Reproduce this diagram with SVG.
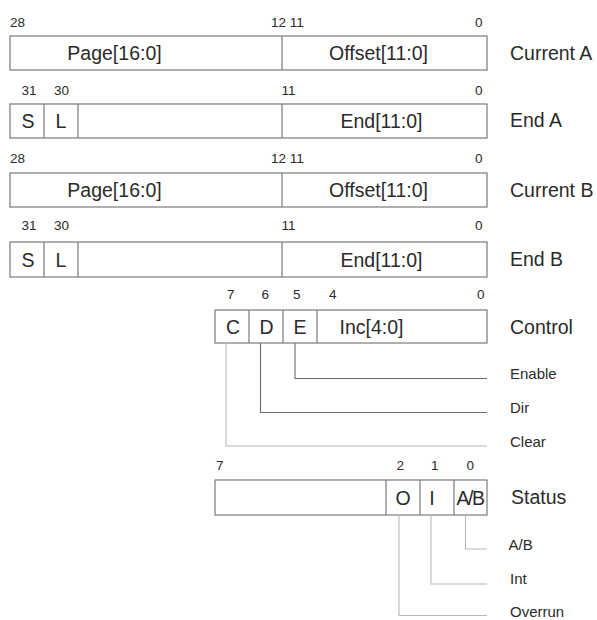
<svg xmlns="http://www.w3.org/2000/svg" width="597" height="620" viewBox="0 0 597 620">
  <style>
    text { font-family: "Liberation Sans", Arial, sans-serif; fill: #2b2b2b; }
    .bit { font-size: 13.5px; }
    .fld { font-size: 19.5px; text-anchor: middle; }
    .reg { font-size: 19.5px; }
    .sig { font-size: 15px; }
    .box { fill: #ffffff; stroke: #7a7a7a; stroke-width: 1.2; }
    .div { stroke: #7a7a7a; stroke-width: 1.2; }
    .wire { fill: none; stroke: #6a6a6a; stroke-width: 1.1; }
    .wire.faint { stroke: #b8b8b8; }
  </style>
  <rect width="597" height="620" fill="#ffffff"/>

  <!-- Current A register -->
  <g id="current-a">
    <text class="bit" x="10" y="27">28</text>
    <text class="bit" x="271" y="27">12 11</text>
    <text class="bit" x="475" y="27">0</text>
    <rect class="box" x="10" y="36" width="477" height="34"/>
    <line class="div" x1="282" y1="36" x2="282" y2="70"/>
    <text class="fld" x="114.5" y="60">Page[16:0]</text>
    <text class="fld" x="378.5" y="60">Offset[11:0]</text>
    <text class="reg" x="510" y="60">Current A</text>
  </g>

  <!-- End A register -->
  <g id="end-a">
    <text class="bit" x="21.5" y="95">31</text>
    <text class="bit" x="54" y="95">30</text>
    <text class="bit" x="281.5" y="95">11</text>
    <text class="bit" x="475" y="95">0</text>
    <rect class="box" x="10" y="104" width="477" height="34"/>
    <line class="div" x1="44" y1="104" x2="44" y2="138"/>
    <line class="div" x1="78" y1="104" x2="78" y2="138"/>
    <line class="div" x1="282" y1="104" x2="282" y2="138"/>
    <text class="fld" x="28" y="128">S</text>
    <text class="fld" x="61" y="128">L</text>
    <text class="fld" x="381.5" y="128">End[11:0]</text>
    <text class="reg" x="510" y="127">End A</text>
  </g>

  <!-- Current B register -->
  <g id="current-b">
    <text class="bit" x="10" y="162.5">28</text>
    <text class="bit" x="271" y="162.5">12 11</text>
    <text class="bit" x="475" y="162.5">0</text>
    <rect class="box" x="10" y="173" width="477" height="34"/>
    <line class="div" x1="282" y1="173" x2="282" y2="207"/>
    <text class="fld" x="114.5" y="197">Page[16:0]</text>
    <text class="fld" x="378.5" y="197">Offset[11:0]</text>
    <text class="reg" x="510" y="196.5">Current B</text>
  </g>

  <!-- End B register -->
  <g id="end-b">
    <text class="bit" x="21.5" y="230">31</text>
    <text class="bit" x="54" y="230">30</text>
    <text class="bit" x="281.5" y="230">11</text>
    <text class="bit" x="475" y="230">0</text>
    <rect class="box" x="10" y="242" width="477" height="35"/>
    <line class="div" x1="44" y1="242" x2="44" y2="277"/>
    <line class="div" x1="78" y1="242" x2="78" y2="277"/>
    <line class="div" x1="282" y1="242" x2="282" y2="277"/>
    <text class="fld" x="28" y="266.5">S</text>
    <text class="fld" x="61" y="266.5">L</text>
    <text class="fld" x="381.5" y="266.5">End[11:0]</text>
    <text class="reg" x="510" y="266">End B</text>
  </g>

  <!-- Control register -->
  <g id="control">
    <text class="bit" x="227" y="298.5">7</text>
    <text class="bit" x="261.5" y="298.5">6</text>
    <text class="bit" x="293" y="298.5">5</text>
    <text class="bit" x="329" y="298.5">4</text>
    <text class="bit" x="477" y="298.5">0</text>
    <rect class="box" x="215" y="310" width="272" height="33"/>
    <line class="div" x1="249" y1="310" x2="249" y2="343"/>
    <line class="div" x1="283" y1="310" x2="283" y2="343"/>
    <line class="div" x1="317" y1="310" x2="317" y2="343"/>
    <text class="fld" x="233" y="333.5">C</text>
    <text class="fld" x="266.5" y="333.5">D</text>
    <text class="fld" x="300" y="333.5">E</text>
    <text class="fld" x="371.5" y="333.5">Inc[4:0]</text>
    <text class="reg" x="510" y="333.5">Control</text>
  </g>

  <!-- Status register -->
  <g id="status">
    <text class="bit" x="216" y="469.5">7</text>
    <text class="bit" x="396.5" y="469.5">2</text>
    <text class="bit" x="431" y="469.5">1</text>
    <text class="bit" x="466.5" y="469.5">0</text>
    <rect class="box" x="215" y="480" width="272" height="35"/>
    <line class="div" x1="386" y1="480" x2="386" y2="515"/>
    <line class="div" x1="420" y1="480" x2="420" y2="515"/>
    <line class="div" x1="454" y1="480" x2="454" y2="515"/>
    <text class="fld" x="403" y="504.5">O</text>
    <text class="fld" x="432" y="504.5">I</text>
    <text class="fld" x="470" y="504.5" letter-spacing="-1.5">A/B</text>
    <text class="reg" x="511" y="503.5">Status</text>
  </g>

  <!-- Bit lines to signal names -->
  <g id="connectors">
    <polyline class="wire" points="295,343 295,378.5 487,378.5"/>
    <polyline class="wire" points="260.5,343 260.5,412.5 487,412.5"/>
    <polyline class="wire faint" points="226,343 226,446 487,446"/>
    <polyline class="wire faint" points="465.5,515 465.5,549 487,549"/>
    <polyline class="wire faint" points="431,515 431,584 487,584"/>
    <polyline class="wire faint" points="399,515 399,615.5 487,615.5"/>
  </g>

  <!-- Signal names -->
  <g id="signals">
    <text class="sig" x="510" y="379">Enable</text>
    <text class="sig" x="510" y="412.5">Dir</text>
    <text class="sig" x="510" y="446.5">Clear</text>
    <text class="sig" x="508.5" y="550">A/B</text>
    <text class="sig" x="510" y="583.5">Int</text>
    <text class="sig" x="510" y="616.5">Overrun</text>
  </g>
</svg>
